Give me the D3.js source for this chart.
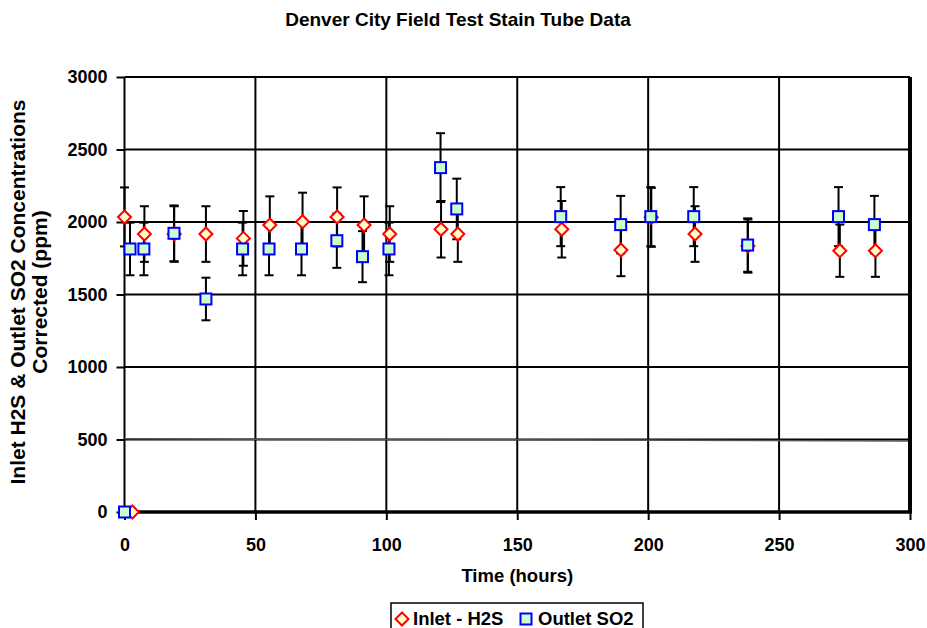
<!DOCTYPE html>
<html>
<head>
<meta charset="utf-8">
<script src="https://cdn.jsdelivr.net/npm/d3@7"></script>
<style>
  body { margin: 0; background: #fff; }
  text { font-family: "Liberation Sans", Arial, sans-serif; font-weight: bold; fill: #000; }
</style>
</head>
<body>
<div id="chart"></div>
<script>
/// Chart data ///
var timeH2S = [0, 3, 7.6, 19, 31.1, 45.4, 55.5, 68, 81.2, 91.5, 101.3, 120.9, 127.3, 167, 189.6, 201.2, 217.9, 238.1, 273.2, 286.8];
var inletH2S = [2035, 0, 1917, 1917, 1917, 1887, 1979, 2002, 2035, 1979, 1917, 1950, 1917, 1950, 1807, 2032, 1917, 1834, 1802, 1802];
var timeSO2 = [0, 2.1, 7.4, 18.9, 31.1, 45.1, 55.2, 67.6, 81.1, 90.9, 101, 120.7, 126.9, 166.6, 189.5, 201, 217.4, 238, 272.7, 286.4];
var outletSO2 = [0, 1814, 1814, 1922, 1469, 1814, 1814, 1814, 1871, 1761, 1814, 2375, 2090, 2037, 1982, 2037, 2037, 1841, 2037, 1982];
var refTime = [0, 300];
var refValue = [505, 490];
var xTicks = [0, 50, 100, 150, 200, 250, 300];
var yTicks = [0, 500, 1000, 1500, 2000, 2500, 3000];
var errPct = 0.1;   // percentage error bars

/// SVG area ///
var svgWidth = 927;
var svgHeight = 628;
var margin = { top: 77, right: 17, bottom: 116, left: 124.5 };
var width = svgWidth - margin.left - margin.right;
var height = svgHeight - margin.top - margin.bottom;

var svg = d3.select("#chart").append("svg")
    .attr("width", svgWidth)
    .attr("height", svgHeight);

var g = svg.append("g").attr("transform", `translate(${margin.left}, ${margin.top})`);

var x = d3.scaleLinear().domain([0, 300]).range([0, width]);
var y = d3.scaleLinear().domain([0, 3000]).range([height, 0]);

// gridlines
g.selectAll(".hgrid").data(yTicks).enter().append("line")
    .attr("x1", 0).attr("x2", width)
    .attr("y1", d => y(d)).attr("y2", d => y(d))
    .attr("stroke", "#000").attr("stroke-width", 2);
g.selectAll(".vgrid").data(xTicks).enter().append("line")
    .attr("y1", 0).attr("y2", height)
    .attr("x1", d => x(d)).attr("x2", d => x(d))
    .attr("stroke", "#000").attr("stroke-width", 2);

// reference line near 500
g.append("path")
    .datum(d3.zip(refTime, refValue))
    .attr("d", d3.line().x(d => x(d[0])).y(d => y(d[1])))
    .attr("stroke", "#555").attr("stroke-width", 1.5).attr("fill", "none");

// axes
var xAxis = d3.axisBottom(x).tickValues(xTicks).tickFormat(d3.format("d")).tickSize(8).tickPadding(18);
var yAxis = d3.axisLeft(y).tickValues(yTicks).tickFormat(d3.format("d")).tickSize(8).tickPadding(9);

var gx = g.append("g").attr("transform", `translate(0, ${height})`).call(xAxis);
var gy = g.append("g").call(yAxis);
[gx, gy].forEach(function (a) {
    a.select(".domain").remove();
    a.selectAll("line").attr("stroke", "#000").attr("stroke-width", 2);
    a.selectAll("text").style("font-size", "18px").style("font-family", "Liberation Sans, Arial, sans-serif").style("font-weight", "bold");
});

// heavy bottom and right border
g.append("line").attr("x1", 0).attr("x2", width + 2).attr("y1", height).attr("y2", height)
    .attr("stroke", "#000").attr("stroke-width", 3.5);
g.append("line").attr("x1", width).attr("x2", width).attr("y1", 0).attr("y2", height)
    .attr("stroke", "#000").attr("stroke-width", 4);

// error bars
function errorBars(xs, ys) {
    var data = d3.zip(xs, ys);
    var eb = g.append("g");
    eb.selectAll(".bar").data(data).enter().append("line")
        .attr("x1", d => x(d[0])).attr("x2", d => x(d[0]))
        .attr("y1", d => y(d[1] * (1 + errPct))).attr("y2", d => y(d[1] * (1 - errPct)))
        .attr("stroke", "#000").attr("stroke-width", 2);
    [1 + errPct, 1 - errPct].forEach(function (f) {
        eb.selectAll(".cap").data(data).enter().append("line")
            .attr("x1", d => x(d[0]) - 4.5).attr("x2", d => x(d[0]) + 4.5)
            .attr("y1", d => y(d[1] * f)).attr("y2", d => y(d[1] * f))
            .attr("stroke", "#000").attr("stroke-width", 2);
    });
}
errorBars(timeH2S, inletH2S);
errorBars(timeSO2, outletSO2);

var diamond = "M0,-6.5L6.5,0L0,6.5L-6.5,0Z";

// markers
g.append("g").selectAll("path").data(d3.zip(timeH2S, inletH2S)).enter().append("path")
    .attr("d", diamond)
    .attr("transform", d => `translate(${x(d[0])}, ${y(d[1])})`)
    .attr("fill", "#ffffcc").attr("stroke", "#ff0000").attr("stroke-width", 2);

g.append("g").selectAll("rect").data(d3.zip(timeSO2, outletSO2)).enter().append("rect")
    .attr("x", d => x(d[0]) - 5.5).attr("y", d => y(d[1]) - 5.5)
    .attr("width", 11).attr("height", 11)
    .attr("fill", "#ccffcc").attr("stroke", "#0000ff").attr("stroke-width", 2);

// titles
svg.append("text").attr("x", 458).attr("y", 26).attr("text-anchor", "middle")
    .style("font-size", "19px").text("Denver City Field Test Stain Tube Data");

svg.append("text").attr("x", margin.left + width / 2).attr("y", 582).attr("text-anchor", "middle")
    .style("font-size", "18.5px").text("Time (hours)");

var ylab = svg.append("text").attr("transform", "translate(0, 292) rotate(-90)")
    .attr("text-anchor", "middle").style("font-size", "21px");
ylab.append("tspan").attr("x", 0).attr("y", 25).text("Inlet H2S & Outlet SO2 Concentrations");
ylab.append("tspan").attr("x", 0).attr("y", 47).text("Corrected (ppm)");

// legend
var leg = svg.append("g");
leg.append("rect").attr("x", 391).attr("y", 603).attr("width", 252).attr("height", 32)
    .attr("fill", "#fff").attr("stroke", "#000").attr("stroke-width", 1.5);
leg.append("path").attr("d", diamond).attr("transform", "translate(402, 619)")
    .attr("fill", "#ffffcc").attr("stroke", "#ff0000").attr("stroke-width", 2);
leg.append("text").attr("x", 413).attr("y", 625).style("font-size", "18.5px").text("Inlet - H2S");
leg.append("rect").attr("x", 520.5).attr("y", 613.5).attr("width", 11).attr("height", 11)
    .attr("fill", "#ccffcc").attr("stroke", "#0000ff").attr("stroke-width", 2);
leg.append("text").attr("x", 538).attr("y", 625).style("font-size", "18.5px").text("Outlet SO2");
</script>
</body>
</html>
